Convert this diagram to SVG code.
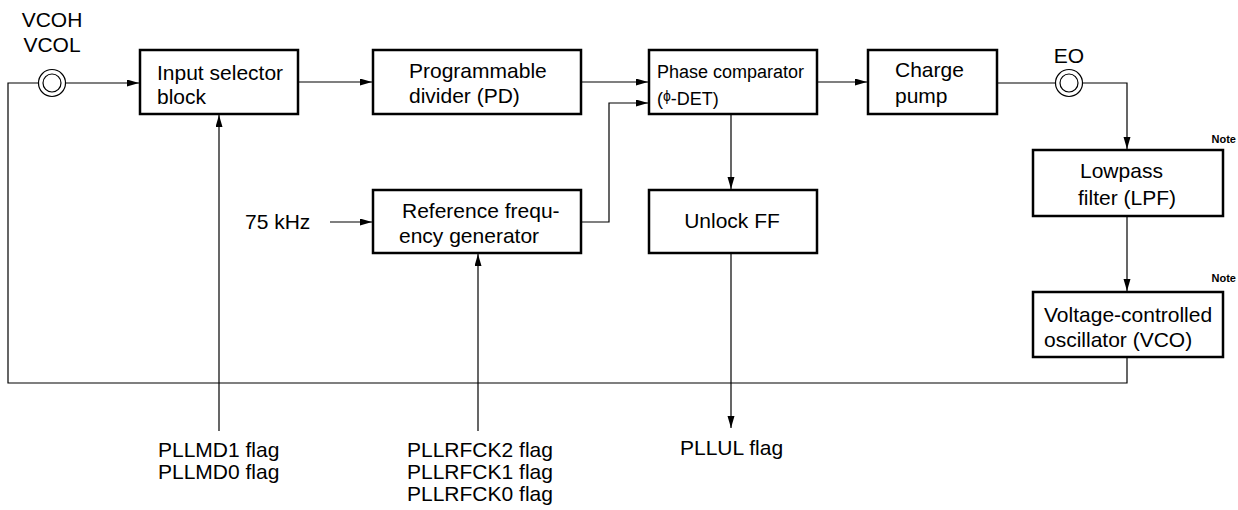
<svg xmlns="http://www.w3.org/2000/svg" width="1238" height="510" viewBox="0 0 1238 510">
<style>
text{font-family:"Liberation Sans",Arial,sans-serif;font-size:21px;fill:#000}
.sm{font-size:18px}
.note{font-size:11px;font-weight:bold}
.box{fill:#fff;stroke:#000;stroke-width:2.5}
.ln{fill:none;stroke:#000;stroke-width:1.2}
.pin{fill:#fff;stroke:#000;stroke-width:1.2}
</style>
<defs>
<marker id="ah" markerUnits="userSpaceOnUse" markerWidth="13" markerHeight="8" refX="12" refY="3.5" orient="auto">
<path d="M0,0 L12,3.5 L0,7 z" fill="#000"/>
</marker>
</defs>
<g id="connectors">
<path class="ln" d="M65.5,83 H139" marker-end="url(#ah)"/>
<path class="ln" d="M298,82 H372" marker-end="url(#ah)"/>
<path class="ln" d="M581,82 H648" marker-end="url(#ah)"/>
<path class="ln" d="M581,222 H609 V103 H648" marker-end="url(#ah)"/>
<path class="ln" d="M817,82 H867" marker-end="url(#ah)"/>
<path class="ln" d="M997,83 H1055.5"/>
<path class="ln" d="M1082.5,83 H1127 V149" marker-end="url(#ah)"/>
<path class="ln" d="M1127,216 V291" marker-end="url(#ah)"/>
<path class="ln" d="M1127,357 V383 H8 V83 H38.5"/>
<path class="ln" d="M731,113 V189" marker-end="url(#ah)"/>
<path class="ln" d="M731,253 V428" marker-end="url(#ah)"/>
<path class="ln" d="M219,431 V115" marker-end="url(#ah)"/>
<path class="ln" d="M478,431 V254" marker-end="url(#ah)"/>
<path class="ln" d="M330,222 H372" marker-end="url(#ah)"/>
</g>
<g id="pin-vco">
<circle class="pin" cx="52" cy="83" r="13.5"/>
<circle class="pin" cx="52" cy="83" r="9"/>
<text x="52" y="27" text-anchor="middle">VCOH</text>
<text x="52" y="52" text-anchor="middle">VCOL</text>
</g>
<g id="pin-eo">
<circle class="pin" cx="1069" cy="83" r="13.5"/>
<circle class="pin" cx="1069" cy="83" r="9"/>
<text x="1069" y="63" text-anchor="middle">EO</text>
</g>
<g id="input-selector">
<rect class="box" x="140" y="50" width="158" height="64"/>
<text x="157" y="80">Input selector</text>
<text x="157" y="104">block</text>
</g>
<g id="prog-divider">
<rect class="box" x="373" y="50" width="208" height="64"/>
<text x="409" y="78">Programmable</text>
<text x="409" y="103">divider (PD)</text>
</g>
<g id="phase-comp">
<rect class="box" x="649" y="50" width="168" height="64"/>
<text class="sm" x="657" y="78">Phase comparator</text>
<text class="sm" x="657" y="105">(<tspan font-size="14" dy="-4">ϕ</tspan><tspan dy="4">-DET)</tspan></text>
</g>
<g id="charge-pump">
<rect class="box" x="868" y="50" width="129" height="64"/>
<text x="895" y="77">Charge</text>
<text x="895" y="103">pump</text>
</g>
<g id="lpf">
<rect class="box" x="1033" y="150" width="190" height="66"/>
<text x="1080" y="178">Lowpass</text>
<text x="1078" y="205">filter (LPF)</text>
<text class="note" x="1236" y="143" text-anchor="end">Note</text>
</g>
<g id="vco">
<rect class="box" x="1033" y="292" width="190" height="65"/>
<text x="1044" y="322">Voltage-controlled</text>
<text x="1044" y="347">oscillator (VCO)</text>
<text class="note" x="1236" y="282" text-anchor="end">Note</text>
</g>
<g id="ref-gen">
<rect class="box" x="373" y="190" width="208" height="63"/>
<text x="402" y="218">Reference frequ-</text>
<text x="399" y="243">ency generator</text>
</g>
<g id="unlock-ff">
<rect class="box" x="649" y="190" width="168" height="63"/>
<text x="732" y="228" text-anchor="middle">Unlock FF</text>
</g>
<g id="labels">
<text x="245" y="229">75 kHz</text>
<text x="158" y="457">PLLMD1 flag</text>
<text x="158" y="479">PLLMD0 flag</text>
<text x="407" y="457">PLLRFCK2 flag</text>
<text x="407" y="479">PLLRFCK1 flag</text>
<text x="407" y="501">PLLRFCK0 flag</text>
<text x="680" y="455">PLLUL flag</text>
</g>
</svg>
